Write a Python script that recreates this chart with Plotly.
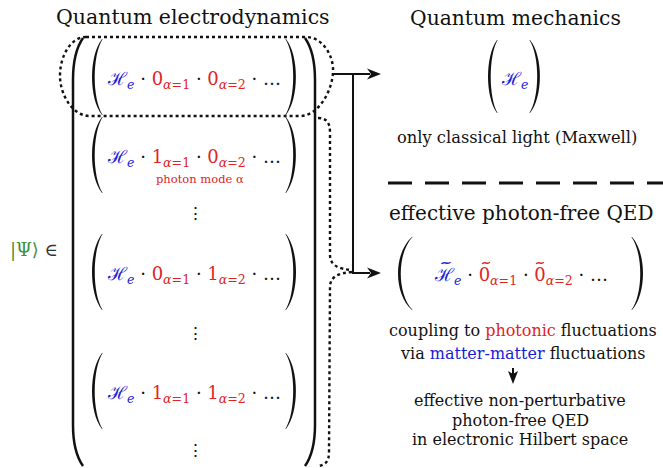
import plotly.graph_objects as go

# ---------------- content ----------------
TITLES = ["Quantum electrodynamics", "Quantum mechanics", "effective photon-free QED"]
OCCUPATIONS = [(0, 0), (1, 0), (0, 1), (1, 1)]          # photon numbers of modes α=1, α=2
MODE_LABEL = "photon mode α"
QM_NOTE = "only classical light (Maxwell)"
COUPLING_LINE1 = ["coupling to ", "photonic", " fluctuations"]
COUPLING_LINE2 = ["via ", "matter-matter", " fluctuations"]
RESULT_LINES = ["effective non-perturbative", "photon-free QED", "in electronic Hilbert space"]
STATE_LABEL = ["|Ψ⟩", "∈"]

BLUE = "#1c1cd6"
RED = "#e02424"
GREEN = "#3f8f3f"
BLACK = "#111111"
FONT = "DejaVu Serif"

W, H = 663, 468
fig = go.Figure()
fig.update_layout(
    width=W, height=H, margin=dict(l=0, r=0, t=0, b=0),
    paper_bgcolor="white", plot_bgcolor="white", showlegend=False,
    xaxis=dict(range=[0, W], visible=False, fixedrange=True),
    yaxis=dict(range=[H, 0], visible=False, fixedrange=True),
    font=dict(family=FONT, color=BLACK),
)

annotations = []
shapes = []


def text(x, y, t, size, color=BLACK, xanchor="center"):
    annotations.append(dict(x=x, y=y, xref="x", yref="y", text=t, showarrow=False,
                            font=dict(size=size, color=color, family=FONT),
                            xanchor=xanchor, yanchor="middle"))


def paren(x_end, x_mid, y0, y1, t=2.6):
    """Filled, tapered parenthesis (left if x_mid < x_end)."""
    h = y1 - y0
    s = 1 if x_mid < x_end else -1
    cx_o = (4 * x_mid - x_end) / 3
    cx_i = (4 * (x_mid + s * t) - x_end) / 3
    ya, yb = y0 + 0.22 * h, y1 - 0.22 * h
    p = (f"M {x_end},{y0} C {cx_o},{ya} {cx_o},{yb} {x_end},{y1} "
         f"L {x_end + s*0.6},{y1} C {cx_i},{yb} {cx_i},{ya} {x_end + s*0.6},{y0} Z")
    shapes.append(dict(type="path", path=p, xref="x", yref="y",
                       fillcolor=BLACK, line=dict(width=0)))


def arrowhead(tx, ty, direction="right"):
    if direction == "right":
        p = f"M {tx},{ty} L {tx-14},{ty-5.5} L {tx-10},{ty} L {tx-14},{ty+5.5} Z"
    else:  # down
        p = f"M {tx},{ty} L {tx-5},{ty-13} L {tx},{ty-10} L {tx+5},{ty-13} Z"
    shapes.append(dict(type="path", path=p, xref="x", yref="y",
                       fillcolor=BLACK, line=dict(width=0)))


def line(path, width=2, dash="solid", color=BLACK):
    shapes.append(dict(type="path", path=path, xref="x", yref="y",
                       line=dict(width=width, dash=dash, color=color)))


def tilde(x, y, color, half=4):
    line(f"M {x-half},{y+1} C {x-half/2},{y-2.5} {x+half/2},{y+2.5} {x+half},{y-1}",
         width=1.3, color=color)


def expr(n1, n2):
    # black parts are left as plain text (annotation colour), coloured parts in spans
    return (f'<span style="color:{BLUE}">ℋ</span><sub><span style="color:{BLUE}"><i>e</i></span></sub> · '
            f'<span style="color:{RED}">{n1}</span><sub><span style="color:{RED}"><i>α</i>=1</span></sub> · '
            f'<span style="color:{RED}">{n2}</span><sub><span style="color:{RED}"><i>α</i>=2</span></sub> · …')


# ---------------- left: QED Hilbert space ----------------
text(193, 17, TITLES[0], 20.5)

# big outer bracket
line("M 83,38 C 76,48 73,62 73,80 L 73,425 C 73,443 76,456 83,466", width=2.5)
line("M 305,38 C 312,48 315,62 315,80 L 315,425 C 315,443 312,456 305,466", width=2.5)

group_centers = [77, 155, 272, 391]
for (n1, n2), yc in zip(OCCUPATIONS, group_centers):
    paren(102, 92, yc - 38, yc + 38)
    paren(286, 296, yc - 38, yc + 38)
    text(194, yc + 3, expr(n1, n2), 18)

text(200, 178.5, MODE_LABEL, 11.5, RED)

for yv in [213, 333, 450]:
    text(195, yv, "⋮", 17)

text(34, 250, f'<span style="color:{GREEN}">{STATE_LABEL[0]}</span> {STATE_LABEL[1]}', 18, "#333333")

# dotted stadium around vacuum state
line("M 86,37 L 306,37 C 322,37 334,55 333,72 C 332,92 318,116 300,116 "
     "L 90,116 C 72,116 60,94 60,76 C 60,54 72,37 86,37 Z", width=2.4, dash="dot")

# dotted curly brace around the photon-carrying states
line("M 318,118 C 327,118 330,123 330,133 L 330,255 C 330,265 338,269 352,270 "
     "M 352,272 C 338,273 330,277 330,287 L 329,452 C 329,461 326,465 318,466",
     width=2.4, dash="dot")

# connectors
line("M 333,74 L 370,74", width=2)
arrowhead(381, 74)
line("M 353,74 L 353,273 L 370,273", width=2)
arrowhead(381, 273)

# ---------------- right: QM ----------------
text(515, 18, TITLES[1], 20.3)
paren(497, 488, 40, 113)
paren(530, 540, 40, 113)
text(514, 80, f'<span style="color:{BLUE}">ℋ</span><sub><span style="color:{BLUE}"><i>e</i></span></sub>', 18)
text(517, 137, QM_NOTE, 16.3)

shapes.append(dict(type="line", x0=388, x1=663, y0=183, y1=183, xref="x", yref="y",
                   line=dict(width=3, dash="24px,13px", color=BLACK)))

# ---------------- right: effective photon-free QED ----------------
text(521, 213, TITLES[2], 20)
paren(412, 398, 237, 310)
paren(632, 643, 237, 310)
text(521, 276, expr(0, 0), 18)
tilde(446, 263, BLUE, 4.5)
tilde(486, 263, RED, 3.8)
tilde(540, 263, RED, 3.8)

text(523, 330, (f'{COUPLING_LINE1[0]}<span style="color:{RED}">{COUPLING_LINE1[1]}</span>'
                f'{COUPLING_LINE1[2]}'), 16)
text(523, 353, (f'{COUPLING_LINE2[0]}<span style="color:{BLUE}">{COUPLING_LINE2[1]}</span>'
                f'{COUPLING_LINE2[2]}'), 16)

line("M 513,368 L 513,378", width=2)
arrowhead(513, 384, "down")

for yv, t in zip([400, 420, 439], RESULT_LINES):
    text(520, yv, t, 16)

fig.update_layout(annotations=annotations, shapes=shapes)
fig.write_html("out.html", config={"displayModeBar": False},
               post_script="document.body.style.margin='0';")
